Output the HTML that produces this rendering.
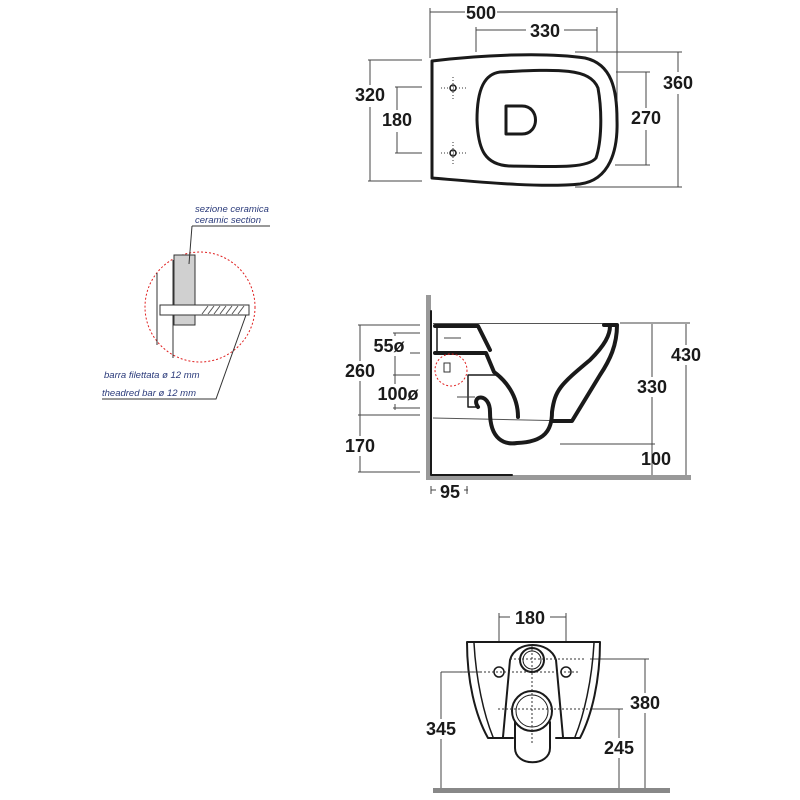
<!DOCTYPE html>
<html><head><meta charset="utf-8"><style>
html,body{margin:0;padding:0;background:#fff;}
svg{display:block;}
svg path{fill:none;}
.n{font-family:"Liberation Sans",sans-serif;font-weight:bold;font-size:18px;fill:#1a1a1a;}
.d{stroke:#444;stroke-width:1;fill:none;}
.k{stroke:#1a1a1a;fill:none;stroke-linecap:round;stroke-linejoin:round;}
.it{font-family:"Liberation Sans",sans-serif;font-style:italic;font-size:9.5px;fill:#2a3a7a;}
</style></head><body>
<svg width="800" height="800" viewBox="0 0 800 800" xmlns="http://www.w3.org/2000/svg">
<!-- TOP VIEW -->
<g>
<path class="d" d="M430,12 H617 M430,8 V58 M617,8 V100 M476,30 H597 M476,27 V52 M597,27 V52"/>
<rect x="465" y="3" width="32" height="18" fill="#fff"/>
<text class="n" x="481" y="19" text-anchor="middle">500</text>
<rect x="526" y="21" width="38" height="18" fill="#fff"/>
<text class="n" x="545" y="37" text-anchor="middle">330</text>
<path class="d" d="M575,52 H682 M678,52 V187 M575,187 H682 M616,72 H650 M646,72 V165 M615,165 H650 M368,60 H422 M370,60 V181 M368,181 H422 M395,87 H422 M397,87 V153 M395,153 H422"/>
<rect x="662" y="72" width="34" height="22" fill="#fff"/>
<text class="n" x="678" y="89" text-anchor="middle">360</text>
<rect x="628" y="108" width="36" height="22" fill="#fff"/>
<text class="n" x="646" y="124" text-anchor="middle">270</text>
<rect x="351" y="85" width="38" height="22" fill="#fff"/>
<text class="n" x="370" y="101" text-anchor="middle">320</text>
<rect x="378" y="110" width="38" height="22" fill="#fff"/>
<text class="n" x="397" y="126" text-anchor="middle">180</text>
<path class="k" stroke-width="3" d="M432,61 L432,178 C480,182 540,188 580,184 C610,180 618,150 617,120 C617,90 612,64 585,58 C545,52 480,55 432,61 Z"/>
<path class="k" stroke-width="3" d="M500,72 C560,69 590,68 598,88 C602,110 602,140 596,158 C588,168 560,167 510,166 C485,165 478,150 477,120 C477,88 485,74 500,72 Z"/>
<path class="k" stroke-width="3" d="M506,106 H522 C540,106 540,134 522,134 H506 Z"/>
<circle cx="453" cy="88" r="3" class="k" stroke-width="1.5"/>
<circle cx="453" cy="153" r="3" class="k" stroke-width="1.5"/>
<path stroke="#333" stroke-dasharray="1,2" d="M441,88 H466 M453,77 V99 M441,153 H466 M453,142 V164"/>
</g>
<!-- DETAIL -->
<g>
<circle cx="200" cy="307" r="55" fill="none" stroke="#e02020" stroke-dasharray="2,2"/>
<rect x="174" y="255" width="21" height="70" fill="#d0d0d0" stroke="#333"/>
<path stroke="#333" d="M157,273 V345 M173,260 V358"/>
<rect x="160" y="305" width="89" height="10" fill="#fff" stroke="#333"/>
<rect x="200" y="306" width="48" height="8" fill="#fff"/>
<path stroke="#555" d="M202,314 l6,-8 M208,314 l6,-8 M214,314 l6,-8 M220,314 l6,-8 M226,314 l6,-8 M232,314 l6,-8 M238,314 l6,-8"/>
<text class="it" x="195" y="212">sezione ceramica</text>
<text class="it" x="195" y="223">ceramic section</text>
<path stroke="#333" d="M192,226 H270 M192,226 L189,264"/>
<text class="it" x="104" y="378">barra filettata ø 12 mm</text>
<text class="it" x="102" y="396">theadred bar ø 12 mm</text>
<path stroke="#333" d="M102,399 H216 L246,315"/>
</g>
<!-- SIDE VIEW -->
<g>
<rect x="426" y="295" width="5" height="182" fill="#999"/>
<rect x="426" y="475" width="265" height="5" fill="#999"/>
<path class="k" stroke-width="2" d="M431,311 V475 H512"/>
<path stroke="#555" d="M433,323.5 H616 M433,418 L572,421"/>
<path class="k" stroke-width="4" d="M435,326 H478 L490,350 M435,353 H486 L494,372 C505,380 518,395 518,417"/>
<path class="k" stroke-width="1.5" d="M437,327 V352 M468,375 H497 M468,375 V407 H478"/>
<path class="k" stroke-width="4" d="M478,407 C470,395 490,392 490,412 C490,440 505,445 517,443 C545,442 552,430 552,412 C555,390 560,385 590,360 C605,345 610,335 610,326 M604,325 H617 C617,345 610,360 600,375 L572,421 H552"/>
<path stroke="#444" d="M444,338 H461 M457,397 H475"/>
<circle cx="451" cy="370" r="16" fill="none" stroke="#e02020" stroke-dasharray="2,2"/>
<rect x="444" y="363" width="6" height="9" fill="#fff" stroke="#333"/>
<path class="d" d="M358,325 H420 M360,325 V472 M358,415 H420 M358,472 H420 M393,333 H420 M395,333 V410 M393,353 H420 M393,375 H420 M393,408 H420 M560,444 H655 M652,324 V475 M620,323 H690 M686,324 V475 M431,490 H468 M467,486 V494 M431,486 V494"/>
<rect x="370" y="336" width="40" height="20" fill="#fff"/>
<text class="n" x="389" y="352" text-anchor="middle">55ø</text>
<rect x="340" y="361" width="40" height="20" fill="#fff"/>
<text class="n" x="360" y="377" text-anchor="middle">260</text>
<rect x="374" y="384" width="48" height="20" fill="#fff"/>
<text class="n" x="398" y="400" text-anchor="middle">100ø</text>
<rect x="340" y="436" width="40" height="20" fill="#fff"/>
<text class="n" x="360" y="452" text-anchor="middle">170</text>
<rect x="632" y="377" width="40" height="20" fill="#fff"/>
<text class="n" x="652" y="393" text-anchor="middle">330</text>
<rect x="666" y="345" width="40" height="20" fill="#fff"/>
<text class="n" x="686" y="361" text-anchor="middle">430</text>
<text class="n" x="656" y="465" text-anchor="middle">100</text>
<rect x="436" y="482" width="28" height="18" fill="#fff"/>
<text class="n" x="450" y="498" text-anchor="middle">95</text>
</g>
<!-- FRONT VIEW -->
<g>
<rect x="433" y="788" width="237" height="5" fill="#888"/>
<path class="d" d="M499,617 H566 M499,613 V641 M566,613 V641 M441,672 H480 M441,672 V788 M590,659 H649 M645,659 V788 M590,709 H623 M619,709 V788"/>
<rect x="510" y="608" width="40" height="20" fill="#fff"/>
<text class="n" x="530" y="624" text-anchor="middle">180</text>
<rect x="421" y="719" width="40" height="20" fill="#fff"/>
<text class="n" x="441" y="735" text-anchor="middle">345</text>
<rect x="625" y="693" width="40" height="20" fill="#fff"/>
<text class="n" x="645" y="709" text-anchor="middle">380</text>
<rect x="599" y="738" width="40" height="20" fill="#fff"/>
<text class="n" x="619" y="754" text-anchor="middle">245</text>
<path class="k" stroke-width="2" d="M467,642 H600 C600,680 592,715 580,738 H556 M467,642 C467,680 475,715 488,738 H513"/>
<path class="k" stroke-width="1.5" d="M474,643 C476,680 484,715 493,737 M594,643 C592,680 584,715 575,737"/>
<path class="k" stroke-width="2" d="M503,737 L510,660 C515,640 550,640 556,660 L563,737"/>
<circle cx="532" cy="660" r="12" class="k" stroke-width="2"/>
<circle cx="532" cy="660" r="9" class="k" stroke-width="1"/>
<circle cx="532" cy="711" r="20" class="k" stroke-width="2"/>
<circle cx="532" cy="711" r="16" class="k" stroke-width="1"/>
<path class="k" stroke-width="2" d="M515,722 V748 C515,767 550,767 550,748 V722"/>
<circle cx="499" cy="672" r="5" class="k" stroke-width="1.5"/>
<circle cx="566" cy="672" r="5" class="k" stroke-width="1.5"/>
<path stroke="#333" stroke-dasharray="2,2" d="M460,672 H580 M510,659 H585 M498,709 H590 M532,645 V745"/>
</g>
</svg>
</body></html>
